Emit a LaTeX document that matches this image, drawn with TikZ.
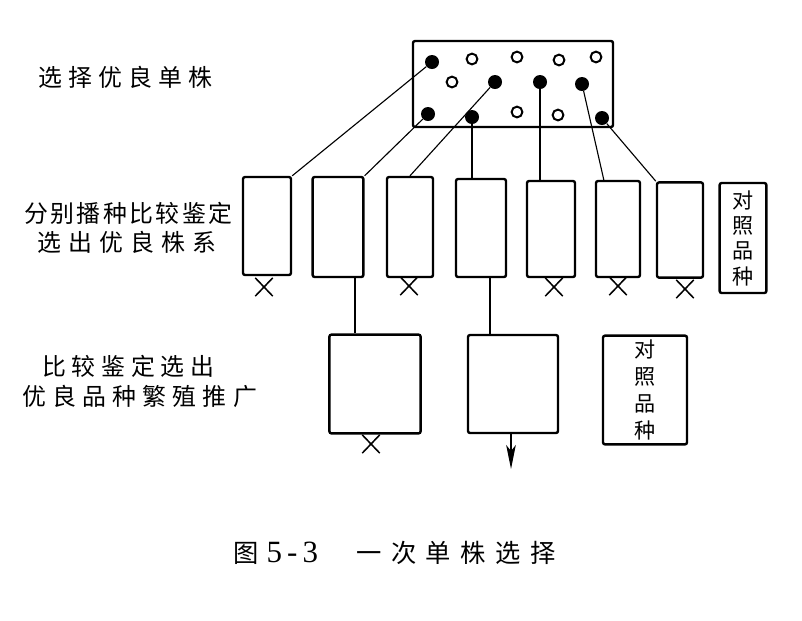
\documentclass[tikz,border=0pt]{standalone}
\usepackage{fontspec}
\setmainfont{Liberation Serif}
\newfontfamily\cjk{Noto Sans CJK SC}
\usepackage{tikz}
\usetikzlibrary{positioning, arrows, arrows.meta, shapes}
\newcommand{\spaced}[2]{{\cjk\addfontfeatures{LetterSpace=#1}#2}}
\tikzstyle{plot} = [rectangle, rounded corners=1.5pt, draw=black, line width=1.7pt, minimum width=1.2cm, minimum height=2.45cm, inner sep=0pt]
\tikzstyle{field} = [plot, minimum width=2.28cm, minimum height=2.47cm]
\tikzstyle{check} = [plot, align=center, font=\cjk\fontsize{15}{18}\selectfont]
\tikzstyle{good} = [circle, fill=black, inner sep=0pt, minimum size=0.35cm]
\tikzstyle{plain} = [circle, draw=black, line width=1.4pt, inner sep=0pt, minimum size=0.27cm]
\tikzstyle{link} = [line width=0.8pt]
\tikzstyle{drop} = [cross out, draw=black, line width=1.1pt, inner sep=0pt, minimum width=0.4cm, minimum height=0.42cm]
\tikzstyle{arrow} = [line width=0.9pt, -{Stealth[length=6mm, width=2.4mm, inset=1.5mm]}]
\tikzstyle{stage} = [anchor=west, inner sep=0pt, font=\fontsize{17}{20}\selectfont]

\begin{document}
\begin{tikzpicture}[node distance=1cm, x=0.025cm, y=-0.025cm]
        \useasboundingbox [fill=white] (0,0) rectangle (802,620);

        % stage names
        \node (lbl_select) [stage] at (38,77) {\spaced{26}{选择优良单株}};
        \node (lbl_sow) [stage] at (24,213) {\spaced{10}{分别播种比较鉴定}};
        \node (lbl_lines) [stage] at (37,242) {\spaced{30}{选出优良株系}};
        \node (lbl_compare) [stage] at (42,366) {\spaced{24}{比较鉴定选出}};
        \node (lbl_spread) [stage] at (22,396) {\spaced{26}{优良品种繁殖推广}};

        % selection field
        \node (field0) [plot, minimum width=5cm, minimum height=2.15cm] at (513,84) {};
        \node (s1) [good] at (432,62) {};
        \node (s2) [good] at (495,82) {};
        \node (s3) [good] at (540,82) {};
        \node (s4) [good] at (582,84) {};
        \node (s5) [good] at (428,114) {};
        \node (s6) [good] at (472,117) {};
        \node (s7) [good] at (602,118) {};
        \node (o1) [plain] at (472,59) {};
        \node (o2) [plain] at (517,57) {};
        \node (o3) [plain] at (559,60) {};
        \node (o4) [plain] at (596,57) {};
        \node (o5) [plain] at (452,82) {};
        \node (o6) [plain] at (517,112) {};
        \node (o7) [plain] at (558,115) {};

        % progeny rows
        \node (b1) [plot] at (267,226) {};
        \node (b2) [plot, minimum width=1.27cm, minimum height=2.5cm] at (338,227) {};
        \node (b3) [plot, minimum width=1.15cm, minimum height=2.5cm] at (410,227) {};
        \node (b4) [plot, minimum width=1.25cm] at (481,228) {};
        \node (b5) [plot, minimum height=2.4cm] at (551,229) {};
        \node (b6) [plot, minimum width=1.1cm, minimum height=2.4cm] at (618,229) {};
        \node (b7) [plot, minimum width=1.15cm, minimum height=2.38cm] at (680,230) {};
        \node (ck1) [check, minimum width=1.17cm, minimum height=2.75cm] at (743,238) {对\\照\\品\\种};

        % variety trials
        \node (v1) [field] at (375,384) {};
        \node (v2) [field, minimum width=2.25cm, minimum height=2.45cm] at (513,384) {};
        \node (ck2) [check, minimum width=2.1cm, minimum height=2.72cm, font=\cjk\fontsize{15}{19.2}\selectfont] at (645,390) {对\\照\\品\\种};
        \coordinate (release) at (511,469);

        % discarded
        \node (x1) [drop] at (264,287) {};
        \node (x3) [drop] at (409,286) {};
        \node (x5) [drop] at (554,287) {};
        \node (x6) [drop] at (618,286) {};
        \node (x7) [drop] at (685,289) {};
        \node (xv1) [drop] at (371,444) {};

        \draw [link] (s1) -- (b1.north east);
        \draw [link] (s5) -- (b2.north east);
        \draw [link] (s2) -- (b3.north);
        \draw [link] (s6) -- (s6 |- b4.north);
        \draw [link] (s3) -- (s3 |- b5.north);
        \draw [link] (s4) -- ([xshift=0.225cm]b6.north west);
        \draw [link] (s7) -- (b7.north west);
        \draw [link] ([xshift=-0.5cm]v1.north) -- ([xshift=-0.5cm]v1.north |- b2.south);
        \draw [link] ([xshift=-0.575cm]v2.north) -- ([xshift=-0.575cm]v2.north |- b4.south);
        \draw [arrow] (v2.south -| release) -- (release);

        % caption
        \node (caption) [stage, font=\fontsize{18}{20}\selectfont] at (233,553) {{\cjk 图}\hspace{0.2cm}{\fontsize{22}{24}\selectfont 5\,-\,3}\hspace{0.95cm}\spaced{38}{一次单株选择}};
\end{tikzpicture}
\end{document}
